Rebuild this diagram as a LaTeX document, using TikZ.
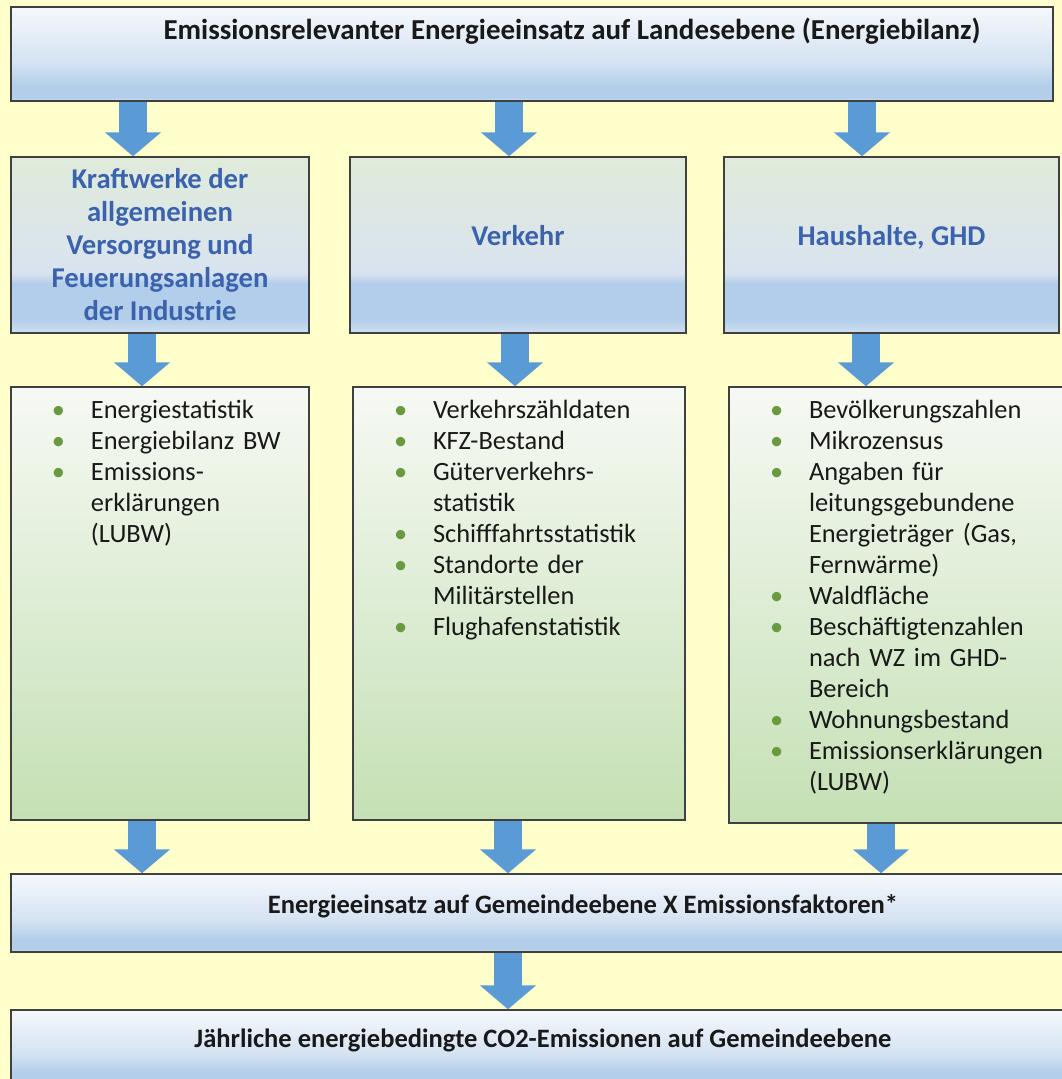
\documentclass[tikz,border=0pt]{standalone}
\usepackage{fontspec}
\setmainfont{Carlito}
\usepackage{tikz}
\usetikzlibrary{arrows.meta}

\definecolor{bgyellow}{RGB}{255,255,204}
\definecolor{arrowblue}{RGB}{91,155,213}
\definecolor{headblue}{RGB}{59,99,173}
\definecolor{dotgreen}{RGB}{106,154,63}
\definecolor{framegray}{RGB}{64,64,64}
\definecolor{bTop}{RGB}{245,248,252}
\definecolor{bMid}{RGB}{212,226,242}
\definecolor{bBand}{RGB}{178,206,234}
\definecolor{bBot}{RGB}{208,223,241}
\definecolor{gTop}{RGB}{224,235,218}
\definecolor{gMid}{RGB}{217,227,240}
\definecolor{lTop}{RGB}{246,249,244}
\definecolor{lBot}{RGB}{197,224,180}

\pgfdeclareverticalshading{bluebar}{100bp}{color(0bp)=(bBot); color(25bp)=(bBot); color(27bp)=(bBand); color(33bp)=(bBand); color(45bp)=(bMid); color(75bp)=(bTop); color(100bp)=(bTop)}
\pgfdeclareverticalshading{headbar}{100bp}{color(0bp)=(bBot); color(25bp)=(bBot); color(29bp)=(bBand); color(39bp)=(bBand); color(42bp)=(gMid); color(75bp)=(gTop); color(100bp)=(gTop)}
\pgfdeclareverticalshading{listbar}{100bp}{color(0bp)=(lBot); color(25bp)=(lBot); color(75bp)=(lTop); color(100bp)=(lTop)}

\newcommand{\dotline}[1]{\hspace*{30.75pt}\makebox[29.25pt][l]{\textcolor{dotgreen}{\textbullet}}#1}
\newcommand{\gapline}[1]{\hspace*{60pt}#1}

\tikzset{
  boxline/.style={draw=framegray, line width=1.1pt, inner sep=0pt, shade, text=black!90},
  bluebox/.style={boxline, shading=bluebar, font=\fontsize{19.9pt}{22pt}\selectfont\bfseries},
  headbox/.style={boxline, shading=headbar, minimum height=132pt, text=headblue, align=center, font=\fontsize{21.5pt}{24.75pt}\selectfont\bfseries},
  listbox/.style={boxline, shading=listbar, align=left, text height=23.25pt, font=\fontsize{19.8pt}{23.25pt}\selectfont},
  fatarrow/.style={draw=arrowblue, line width=21pt, -{Triangle[length=18pt,width=41.25pt]}},
}

\begin{document}
\begin{tikzpicture}[x=0.75pt,y=0.75pt,yscale=-1,xscale=1]
    \useasboundingbox (0,0) rectangle (1062,1079);
    \clip (0,0) rectangle (1062,1079);
    \fill[bgyellow] (0,0) rectangle (1062,1079);

    %Box: Landesebene
    \node[bluebox, minimum width=781.5pt, text height=24pt, text depth=46.5pt, font=\fontsize{21.7pt}{24pt}\selectfont\bfseries] (land) at (532,54) {\hspace*{60pt}Emissionsrelevanter Energieeinsatz auf Landesebene (Energiebilanz)};

    %Boxes: Sektoren
    \node[headbox, minimum width=223.5pt] (kw) at (160,245) {Kraftwerke der\\allgemeinen\\Versorgung und\\Feuerungsanlagen\\der Industrie};
    \node[headbox, minimum width=252pt, text height=14pt, text depth=14pt] (vk) at (518,245) {Verkehr};
    \node[headbox, minimum width=251.25pt, text height=14pt, text depth=14pt] (hh) at (891.5,245) {Haushalte, GHD};

    %Boxes: Datenquellen
    \node[listbox, text width=223.5pt, text depth=301.5pt] (q1) at (160,603.5) {\dotline{Energiestatistik}\\
      \dotline{Energiebilanz BW}\\
      \dotline{Emissions-}\\
      \gapline{erklärungen}\\
      \gapline{(LUBW)}};
    \node[listbox, text width=249pt, text depth=301.5pt] (q2) at (519,603.5) {\dotline{Verkehrszähldaten}\\
      \dotline{KFZ-Bestand}\\
      \dotline{Güterverkehrs-}\\
      \gapline{statistik}\\
      \dotline{Schifffahrtsstatistik}\\
      \dotline{Standorte der}\\
      \gapline{Militärstellen}\\
      \dotline{Flughafenstatistik}};
    \node[listbox, text width=259.5pt, text depth=303.75pt] (q3) at (902,605) {\dotline{Bevölkerungszahlen}\\
      \dotline{Mikrozensus}\\
      \dotline{Angaben für}\\
      \gapline{leitungsgebundene}\\
      \gapline{Energieträger (Gas,}\\
      \gapline{Fernwärme)}\\
      \dotline{Waldfläche}\\
      \dotline{Beschäftigtenzahlen}\\
      \gapline{nach WZ im GHD-}\\
      \gapline{Bereich}\\
      \dotline{Wohnungsbestand}\\
      \dotline{Emissionserklärungen}\\
      \gapline{(LUBW)}};

    %Boxes: Gemeindeebene
    \node[bluebox, minimum width=798pt, text height=29.25pt, text depth=29.25pt] (gem) at (543,913) {\hspace*{60pt}Energieeinsatz auf Gemeindeebene X Emissionsfaktoren*};
    \node[bluebox, minimum width=798pt, text height=27.75pt, text depth=27.75pt] (co2) at (543,1047) {Jährliche energiebedingte CO2-Emissionen auf Gemeindeebene};

    %Arrows
    \draw[fatarrow] (land.south -| 133,0) -- (kw.north -| 133,0);
    \draw[fatarrow] (land.south -| 509,0) -- (vk.north -| 509,0);
    \draw[fatarrow] (land.south -| 862,0) -- (hh.north -| 862,0);
    \draw[fatarrow] (kw.south -| 142,0) -- (q1.north -| 142,0);
    \draw[fatarrow] (vk.south -| 515,0) -- (q2.north -| 515,0);
    \draw[fatarrow] (hh.south -| 866,0) -- (q3.north -| 866,0);
    \draw[fatarrow] (q1.south -| 142,0) -- (gem.north -| 142,0);
    \draw[fatarrow] (q2.south -| 508,0) -- (gem.north -| 508,0);
    \draw[fatarrow] (q3.south -| 881,0) -- (gem.north -| 881,0);
    \draw[fatarrow] (gem.south -| 508,0) -- (co2.north -| 508,0);
\end{tikzpicture}
\end{document}
